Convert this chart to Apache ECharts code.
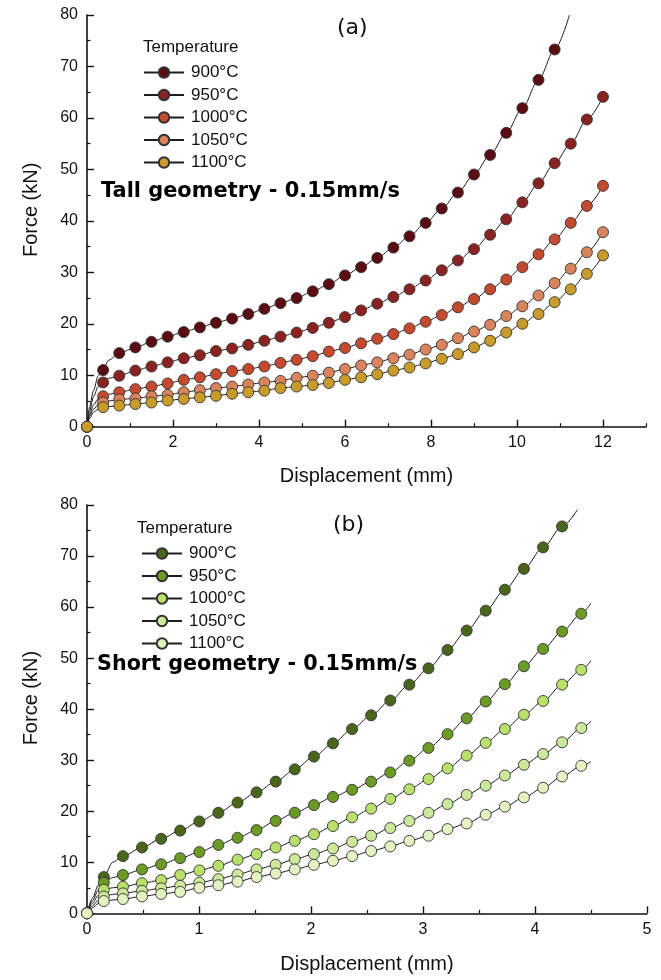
<!DOCTYPE html>
<html>
<head>
<meta charset="utf-8">
<script src="https://cdn.jsdelivr.net/npm/echarts@6/dist/echarts.min.js"></script>
<style>
html,body{margin:0;padding:0;background:#fff;}
#chart{width:661px;height:980px;}
</style>
</head>
<body>
<div id="chart"></div>
<script>
// ---------- data ----------
var tempLabels = ['900°C', '950°C', '1000°C', '1050°C', '1100°C'];

// Panel (a): Tall geometry - marker displacements (mm)
var xA = [0, 0.375, 0.75, 1.125, 1.5, 1.875, 2.25, 2.625, 3, 3.375, 3.75, 4.125, 4.5, 4.875, 5.25, 5.625, 6,
  6.375, 6.75, 7.125, 7.5, 7.875, 8.25, 8.625, 9, 9.375, 9.75, 10.125, 10.5, 10.875, 11.25, 11.625, 12];
var yA900 = [0, 11.0, 14.3, 15.4, 16.5, 17.5, 18.4, 19.3, 20.2, 21.0, 21.9, 22.9, 24.0, 25.0, 26.3, 27.7, 29.4,
  31.0, 32.8, 34.8, 37.0, 39.6, 42.4, 45.5, 49.0, 52.8, 57.1, 61.9, 67.4, 73.3];
var yA950 = [0, 8.6, 9.9, 10.9, 11.7, 12.5, 13.3, 13.9, 14.7, 15.2, 15.9, 16.7, 17.5, 18.3, 19.2, 20.2, 21.3,
  22.6, 23.9, 25.2, 26.7, 28.4, 30.4, 32.3, 34.5, 37.3, 40.3, 43.6, 47.3, 51.2, 55.0, 59.7, 64.1];
var yA1000 = [0, 5.9, 6.7, 7.3, 7.8, 8.4, 9.1, 9.6, 10.2, 10.8, 11.2, 11.7, 12.4, 13.0, 13.7, 14.6, 15.3,
  16.2, 17.1, 18.0, 19.1, 20.4, 21.7, 23.2, 24.8, 26.7, 28.6, 31.0, 33.5, 36.4, 39.6, 42.9, 46.8];
var yA1050 = [0, 4.7, 5.3, 5.5, 5.9, 6.2, 6.7, 7.1, 7.5, 7.8, 8.2, 8.6, 8.9, 9.5, 9.9, 10.5, 11.2,
  11.9, 12.5, 13.3, 14.0, 15.0, 15.9, 17.2, 18.5, 19.8, 21.5, 23.4, 25.5, 27.9, 30.7, 33.9, 37.8];
var yA1100 = [0, 3.8, 4.1, 4.4, 4.7, 5.1, 5.4, 5.7, 6.0, 6.4, 6.7, 7.0, 7.5, 7.8, 8.1, 8.5, 9.1,
  9.6, 10.2, 10.9, 11.5, 12.3, 13.2, 14.1, 15.4, 16.7, 18.3, 20.0, 21.9, 24.2, 26.7, 29.7, 33.3];
// curve-only points (no marker)
var curveA900 = [[0.06, 3.8], [0.15, 7.0], [0.26, 9.9], [0.5, 12.9], [11.22, 80]];
var curveA950 = [[0.06, 3.0], [0.15, 5.8], [0.26, 7.8], [0.5, 9.4]];
var curveA1000 = [[0.06, 2.4], [0.15, 4.2], [0.26, 5.4], [0.5, 6.3]];
var curveA1050 = [[0.06, 2.0], [0.15, 3.4], [0.26, 4.3], [0.5, 5.0]];
var curveA1100 = [[0.06, 1.6], [0.15, 2.8], [0.26, 3.4], [0.5, 3.9]];

// Panel (b): Short geometry
var xB = [0, 0.150, 0.321, 0.491, 0.662, 0.832, 1.003, 1.173, 1.344, 1.514, 1.685, 1.855, 2.026, 2.196,
  2.367, 2.537, 2.708, 2.878, 3.049, 3.219, 3.390, 3.560, 3.731, 3.901, 4.072, 4.242, 4.413];
var yB900 = [0, 7.1, 11.2, 12.9, 14.6, 16.2, 18.0, 19.7, 21.7, 23.7, 25.8, 28.2, 30.7, 33.3, 36.1, 38.8,
  41.7, 44.8, 48.0, 51.6, 55.4, 59.3, 63.4, 67.5, 71.7, 75.8];
var yB950 = [0, 6.0, 7.5, 8.6, 9.6, 10.8, 12.0, 13.4, 14.8, 16.3, 18.1, 19.7, 21.2, 22.8, 24.2, 25.8,
  27.6, 29.9, 32.4, 35.1, 38.2, 41.5, 44.9, 48.4, 51.8, 55.2, 58.7];
var yB1000 = [0, 4.6, 5.2, 5.9, 6.5, 7.5, 8.4, 9.3, 10.5, 11.6, 12.9, 14.2, 15.5, 17.1, 18.8, 20.5,
  22.4, 24.3, 26.3, 28.4, 30.9, 33.4, 36.1, 38.9, 41.6, 44.8, 47.7];
var yB1050 = [0, 3.3, 3.9, 4.4, 4.9, 5.4, 6.0, 6.7, 7.6, 8.6, 9.5, 10.6, 11.6, 12.7, 14.0, 15.2,
  16.7, 18.1, 19.7, 21.4, 23.2, 25.0, 27.0, 29.1, 31.2, 33.5, 36.3];
var yB1100 = [0, 2.4, 2.8, 3.3, 3.8, 4.2, 5.0, 5.5, 6.2, 7.1, 7.8, 8.6, 9.5, 10.3, 11.2, 12.2,
  13.1, 14.2, 15.2, 16.5, 17.6, 19.3, 20.9, 22.7, 24.6, 26.8, 28.9];
var curveB900 = [[0.05, 3.0], [0.1, 5.5], [0.23, 10.0], [4.38, 79.1]];
var curveB950 = [[0.05, 2.5], [0.1, 4.5], [0.23, 7.0], [4.5, 60.8]];
var curveB1000 = [[0.05, 2.0], [0.1, 3.5], [0.23, 5.0], [4.5, 49.5]];
var curveB1050 = [[0.05, 1.5], [0.1, 2.5], [0.23, 3.7], [4.5, 37.6]];
var curveB1100 = [[0.05, 1.1], [0.1, 1.9], [0.23, 2.6], [4.5, 29.7]];

// axis ticks
var yTicks = [0, 10, 20, 30, 40, 50, 60, 70, 80];
var xTicksA = [0, 2, 4, 6, 8, 10, 12];
var xMinorA = [1, 3, 5, 7, 9, 11, 13];
var xTicksB = [0, 1, 2, 3, 4, 5];

// ---------- styles ----------
var colorsA = ['#5a0c12', '#8a2222', '#c4492f', '#d9845d', '#c99b2b'];
var colorsB = ['#4a661a', '#6b9b25', '#b9e06b', '#cce89a', '#e3f3c2'];
var sansFont = "'Liberation Sans', Arial, sans-serif";
var dejaFont = "'DejaVu Sans', Verdana, sans-serif";

function buildData(xs, ys, curve) {
  var pts = [];
  for (var i = 0; i < ys.length; i++) pts.push({ value: [xs[i], ys[i]] });
  for (var j = 0; j < curve.length; j++) pts.push({ value: curve[j], symbol: 'none' });
  pts.sort(function (a, b) { return a.value[0] - b.value[0]; });
  return pts;
}

var seriesA = [[yA900, curveA900], [yA950, curveA950], [yA1000, curveA1000], [yA1050, curveA1050], [yA1100, curveA1100]];
var seriesB = [[yB900, curveB900], [yB950, curveB950], [yB1000, curveB1000], [yB1050, curveB1050], [yB1100, curveB1100]];

var series = [];
var namesA = [], namesB = [];
function addSeries(list, xs, colors, gridIdx, prefix, names) {
  list.forEach(function (s, i) {
    var nm = prefix + i;
    names.push(nm);
    series.push({
      name: nm,
      type: 'line',
      xAxisIndex: gridIdx === 0 ? 0 : 2,
      yAxisIndex: gridIdx,
      data: buildData(xs, s[0], s[1]),
      smooth: 0.3,
      smoothMonotone: 'x',
      symbol: 'circle',
      symbolSize: 11,
      showAllSymbol: true,
      clip: true,
      lineStyle: { color: '#1e1e1e', width: 1 },
      itemStyle: { color: colors[i], borderColor: '#333', borderWidth: 0.9 },
      emphasis: { disabled: true },
      animation: false
    });
  });
}
addSeries(seriesA, xA, colorsA, 0, 'a', namesA);
addSeries(seriesB, xB, colorsB, 1, 'b', namesB);

function legendFmt(name) { return tempLabels[parseInt(name.slice(1), 10)]; }

var axisLineStyle = { color: '#111', width: 1.6 };
var labelStyle = { color: '#111', fontSize: 16, fontFamily: sansFont };
var nameStyle = { color: '#111', fontSize: 20, fontFamily: sansFont };

function yAxis(gridIdx) {
  return {
    type: 'value', gridIndex: gridIdx, min: 0, max: 80, interval: 10,
    name: 'Force (kN)', nameLocation: 'middle', nameGap: 46,
    nameTextStyle: Object.assign({ padding: [0, 0, 0, 22] }, nameStyle),
    axisLine: { show: true, onZero: false, lineStyle: axisLineStyle },
    axisTick: { show: true, inside: true, length: 7, lineStyle: { color: '#111', width: 1.4 } },
    minorTick: { show: true, splitNumber: 2, length: 3.5, lineStyle: { color: '#111', width: 1.2 } },
    axisLabel: Object.assign({ margin: 9, customValues: yTicks }, labelStyle),
    splitLine: { show: false }
  };
}

var option = {
  backgroundColor: '#fff',
  animation: false,
  grid: [
    { left: 87, right: 15, top: 15, bottom: 553.3, containLabel: false },
    { left: 87, right: 14, top: 505, bottom: 66.7, containLabel: false }
  ],
  xAxis: [
    {
      type: 'value', gridIndex: 0, min: 0, max: 13, interval: 1, position: 'bottom',
      name: 'Displacement (mm)', nameLocation: 'middle', nameGap: 40, nameTextStyle: nameStyle,
      axisLine: { show: true, onZero: false, lineStyle: axisLineStyle },
      axisTick: { show: true, inside: true, length: 7, customValues: xTicksA, lineStyle: { color: '#111', width: 1.4 } },
      axisLabel: Object.assign({ margin: 8, customValues: xTicksA }, labelStyle),
      splitLine: { show: false }
    },
    {
      type: 'value', gridIndex: 0, min: 0, max: 13, interval: 1, position: 'bottom', offset: 0,
      axisLine: { show: false },
      axisTick: { show: true, inside: true, length: 3.5, customValues: xMinorA, lineStyle: { color: '#111', width: 1.2 } },
      axisLabel: { show: false },
      splitLine: { show: false }
    },
    {
      type: 'value', gridIndex: 1, min: 0, max: 5, interval: 1, position: 'bottom',
      name: 'Displacement (mm)', nameLocation: 'middle', nameGap: 41, nameTextStyle: nameStyle,
      axisLine: { show: true, onZero: false, lineStyle: axisLineStyle },
      axisTick: { show: true, inside: true, length: 7, lineStyle: { color: '#111', width: 1.4 } },
      minorTick: { show: true, splitNumber: 2, length: 3.5, lineStyle: { color: '#111', width: 1.2 } },
      axisLabel: Object.assign({ margin: 8, customValues: xTicksB }, labelStyle),
      splitLine: { show: false }
    }
  ],
  yAxis: [yAxis(0), yAxis(1)],
  legend: [
    {
      data: namesA, formatter: legendFmt, orient: 'vertical', left: 143, top: 64, padding: 0,
      itemWidth: 40, itemHeight: 13, itemGap: 5.5, selectedMode: false,
      textStyle: { color: '#111', fontSize: 17, fontFamily: sansFont, lineHeight: 17, padding: [0, 0, 0, 2] }
    },
    {
      data: namesB, formatter: legendFmt, orient: 'vertical', left: 141, top: 545, padding: 0,
      itemWidth: 40, itemHeight: 13, itemGap: 5.5, selectedMode: false,
      textStyle: { color: '#111', fontSize: 17, fontFamily: sansFont, lineHeight: 17, padding: [0, 0, 0, 2] }
    }
  ],
  title: [
    { text: 'Temperature', left: 143, top: 38.5, padding: 0,
      textStyle: { color: '#111', fontSize: 17, fontWeight: 'normal', fontFamily: sansFont } },
    { text: '(a)', left: 337, top: 17, padding: 0,
      textStyle: { color: '#111', fontSize: 22, fontWeight: 'normal', fontFamily: dejaFont } },
    { text: 'Tall geometry - 0.15mm/s', left: 101, top: 181, padding: 0,
      textStyle: { color: '#000', fontSize: 20.9, fontWeight: 'bold', fontFamily: dejaFont } },
    { text: 'Temperature', left: 137, top: 519.5, padding: 0,
      textStyle: { color: '#111', fontSize: 17, fontWeight: 'normal', fontFamily: sansFont } },
    { text: '(b)', left: 333, top: 514, padding: 0,
      textStyle: { color: '#111', fontSize: 22, fontWeight: 'normal', fontFamily: dejaFont } },
    { text: 'Short geometry - 0.15mm/s', left: 97, top: 654, padding: 0,
      textStyle: { color: '#000', fontSize: 20.7, fontWeight: 'bold', fontFamily: dejaFont } }
  ],
  series: series
};

var chart = echarts.init(document.getElementById('chart'), null, { renderer: 'canvas' });
chart.setOption(option);
</script>
</body>
</html>
